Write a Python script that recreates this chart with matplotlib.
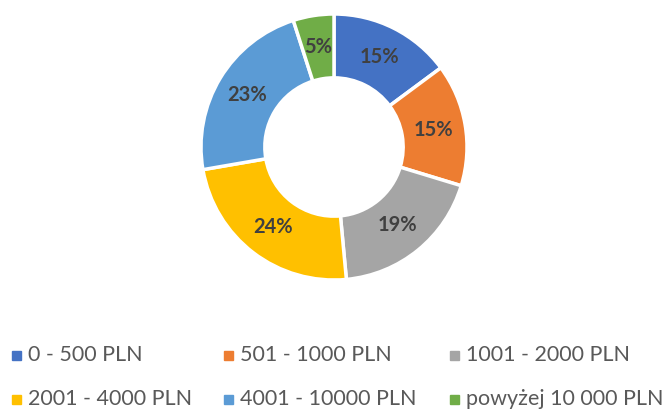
import matplotlib.pyplot as plt
from matplotlib.patches import Rectangle

# Data
labels = ["0 - 500 PLN", "501 - 1000 PLN", "1001 - 2000 PLN",
          "2001 - 4000 PLN", "4001 - 10000 PLN", "powyżej 10 000 PLN"]
values = [15, 15, 19, 24, 23, 5]
colors = ["#4472C4", "#ED7D31", "#A5A5A5", "#FFC000", "#5B9BD5", "#70AD47"]

plt.rcParams["font.family"] = ["Lato", "DejaVu Sans"]

fig = plt.figure(figsize=(6.68, 4.11), dpi=100)

# donut axes: centre ~ (334, 147) px, outer radius ~133 px
half = 135
ax = fig.add_axes([(334 - half) / 668, (411 - 147 - half) / 411, 2 * half / 668, 2 * half / 411])
R = 133 / half
wedges, texts, autotexts = ax.pie(
    values, colors=colors, startangle=90, counterclock=False, radius=R,
    wedgeprops=dict(width=R * 0.48, edgecolor="white", linewidth=2.5),
    autopct=lambda p: f"{p:.0f}%", pctdistance=0.76,
    textprops=dict(color="#404040", fontsize=14.5, fontweight="bold"))
ax.set_xlim(-1, 1)
ax.set_ylim(-1, 1)
ax.set_aspect("equal")

# legend, Excel style: fixed column positions
col_x = [12, 224, 450]
row_y = [355, 399]
for i, (lab, c) in enumerate(zip(labels, colors)):
    x = col_x[i % 3]
    y = row_y[i // 3]
    fig.patches.append(Rectangle((x / 668, (411 - y - 4.5) / 411), 9 / 668, 9 / 411,
                                 transform=fig.transFigure, color=c))
    fig.text((x + 16) / 668, (411 - y) / 411, lab, fontsize=15.5, color="#595959",
             va="center", ha="left")

plt.savefig("out.png", dpi=100)
